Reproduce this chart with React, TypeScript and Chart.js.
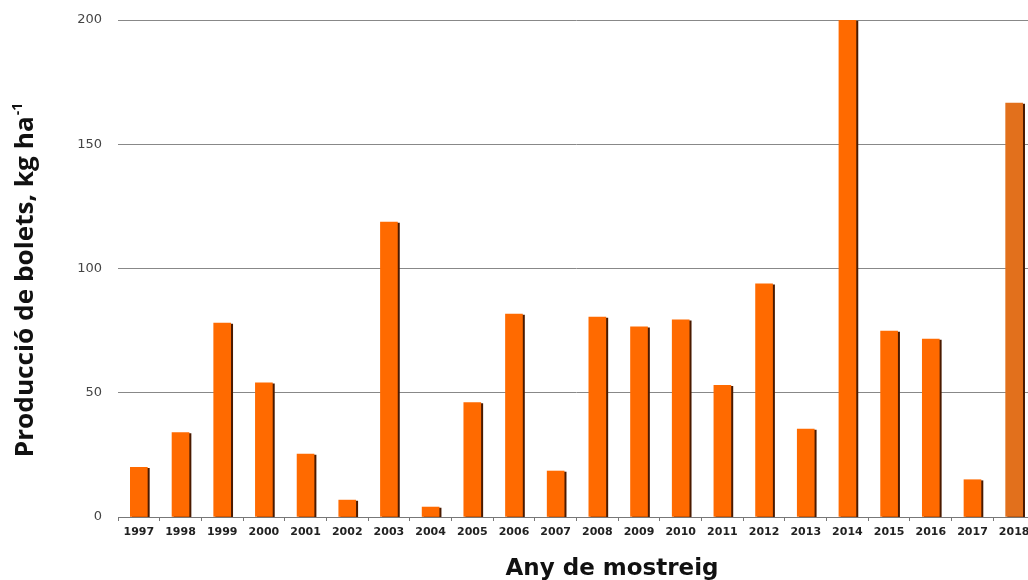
import React, { useEffect, useRef } from "react";
import { Chart, registerables } from "chart.js";

Chart.register(...registerables);

const years = ["1997","1998","1999","2000","2001","2002","2003","2004","2005","2006","2007","2008","2009","2010","2011","2012","2013","2014","2015","2016","2017","2018"];
const production = [20, 34, 78, 54, 25.3, 6.8, 118.7, 4, 46, 81.7, 18.5, 80.5, 76.5, 79.3, 53, 93.8, 35.4, 200, 74.8, 71.6, 15, 166.6];
const barColors = [...years.slice(0, 21).map(() => "#FF6A00"), "#E2701C"];
const yTicks = [0, 50, 100, 150, 200];
const xTitle = "Any de mostreig";
const yTitleMain = "Producció de bolets, kg ha";
const yTitleSup = "-1";

const shadowPlugin = {
  id: "barShadow",
  beforeDatasetDraw(chart: any) {
    const ctx = chart.ctx;
    ctx.save();
    ctx.shadowColor = "#4a1a00";
    ctx.shadowOffsetX = 2;
    ctx.shadowOffsetY = 1;
    ctx.shadowBlur = 0;
  },
  afterDatasetDraw(chart: any) {
    chart.ctx.restore();
  },
};

const titlesPlugin = {
  id: "axisTitles",
  afterDraw(chart: any) {
    const ctx = chart.ctx;
    ctx.save();
    ctx.fillStyle = "#111";
    ctx.textBaseline = "alphabetic";
    // x title
    ctx.textAlign = "center";
    ctx.font = "bold 23px 'DejaVu Sans'";
    ctx.fillText(xTitle, 612, 575);
    // y title
    ctx.textAlign = "left";
    ctx.translate(33, 280);
    ctx.rotate(-Math.PI / 2);
    ctx.font = "bold 25px 'Open Sans'";
    const mw = ctx.measureText(yTitleMain).width;
    const targetMain = 341;
    const sx = targetMain / mw;
    ctx.font = "bold 14px 'Open Sans'";
    const sw = ctx.measureText(yTitleSup).width;
    const total = targetMain + 1 + sw;
    const start = -total / 2;
    ctx.save();
    ctx.translate(start, 0);
    ctx.scale(sx, 1);
    ctx.font = "bold 25px 'Open Sans'";
    ctx.fillText(yTitleMain, 0, 0);
    ctx.restore();
    ctx.font = "bold 14px 'Open Sans'";
    ctx.fillText(yTitleSup, start + targetMain + 1, -11);
    ctx.restore();
  },
};

export default function App() {
  const ref = useRef<HTMLCanvasElement>(null);
  useEffect(() => {
    if (!ref.current) return;
    const chart = new Chart(ref.current, {
      type: "bar",
      data: {
        labels: years,
        datasets: [
          {
            data: production,
            backgroundColor: barColors,
            borderWidth: 0,
            barThickness: 17,
          },
        ],
      },
      plugins: [shadowPlugin, titlesPlugin],
      options: {
        animation: false,
        responsive: false,
        maintainAspectRatio: false,
        layout: { autoPadding: false, padding: { top: 20, left: 0, right: 5, bottom: 0 } },
        plugins: { legend: { display: false }, tooltip: { enabled: false } },
        scales: {
          x: {
            offset: true,
            grid: {
              offset: true,
              drawOnChartArea: false,
              drawTicks: true,
              tickLength: 4,
              color: "#777",
            },
            border: { display: true, color: "#777", width: 1 },
            ticks: {
              color: "#222",
              font: { family: "DejaVu Sans", size: 11, weight: "bold" },
              padding: 5,
              maxRotation: 0,
              autoSkip: false,
            },
            title: { display: false },
            afterFit(scale: any) {
              scale.height = 63;
              scale.paddingLeft = 0;
              scale.paddingRight = 0;
            },
          },
          y: {
            min: 0,
            max: 200,
            afterBuildTicks(scale: any) {
              scale.ticks = yTicks.map((v) => ({ value: v }));
            },
            grid: { color: "#888", lineWidth: 1, drawTicks: false },
            border: { display: false },
            ticks: {
              color: "#444",
              font: { family: "DejaVu Sans", size: 13 },
              padding: 16,
            },
            title: { display: false },
            afterFit(scale: any) {
              scale.width = 118;
              scale.paddingTop = 0;
              scale.paddingBottom = 0;
            },
          },
        },
      },
    });
    return () => chart.destroy();
  }, []);
  return (
    <div style={{ position: "fixed", left: 0, top: 0, width: 1028, height: 580, overflow: "hidden", background: "#fff" }}>
      <canvas ref={ref} width={1040} height={580} style={{ width: 1040, height: 580, display: "block" }} />
    </div>
  );
}
